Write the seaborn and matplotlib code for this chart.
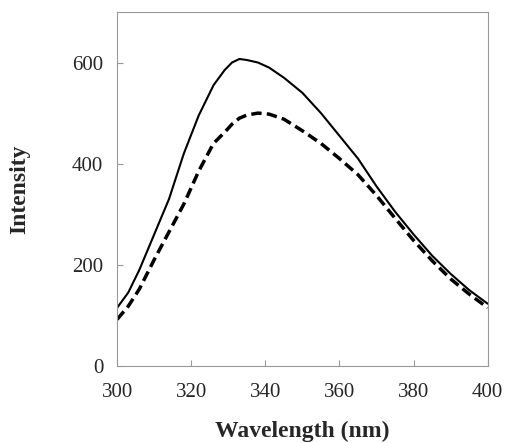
import matplotlib
matplotlib.use("Agg")
import matplotlib.pyplot as plt
import seaborn as sns
import pandas as pd

wavelength = [300,303,306,310,314,318,322,326,329,331,333,335,338,341,345,350,355,360,365,370,375,380,385,390,395,400]
solid = [115,145,190,260,330,420,495,555,585,600,607,605,600,590,570,540,500,455,410,355,305,260,218,182,150,123]
dashed = [92,118,152,210,265,320,385,440,462,478,490,496,500,498,488,465,440,410,378,337,292,248,208,172,142,115]

sns.set_style("white")
plt.rcParams['font.family'] = ['Liberation Serif', 'DejaVu Serif']
fig = plt.figure(figsize=(5.07, 4.43), dpi=100)
ax = fig.add_axes([0.231, 0.174, 0.731, 0.799])
df = pd.DataFrame({"w": wavelength, "s": solid, "d": dashed})
sns.lineplot(data=df, x="w", y="s", ax=ax, color="black", lw=1.5)
sns.lineplot(data=df, x="w", y="d", ax=ax, color="black", lw=2.5, linestyle=(0, (3, 1.5)))
ax.set_xlim(300, 400)
ax.set_ylim(0, 700)
ax.set_xticks([300,320,340,360,380,400])
ax.set_yticks([0,200,400,600])
for s in ax.spines.values():
    s.set_color("#999999")
ax.tick_params(axis="both", labelsize=15, direction="in", length=4, color="#999999", bottom=True, left=True)
ax.tick_params(axis="x", pad=12)
ax.tick_params(axis="y", pad=10)
ax.set_xlabel("Wavelength (nm)", fontsize=17, fontweight="bold", labelpad=14)
ax.set_ylabel("Intensity", fontsize=17, fontweight="bold", labelpad=30)
fig.savefig("out.png", dpi=100)
